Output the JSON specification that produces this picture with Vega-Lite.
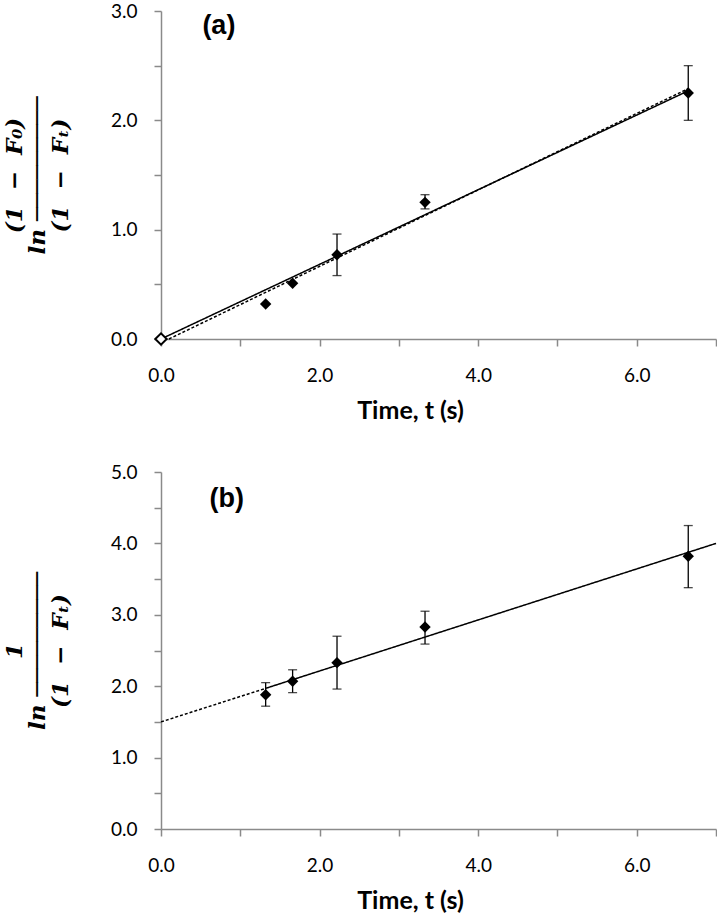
{
  "$schema": "https://vega.github.io/schema/vega-lite/v6.json",
  "padding": {"left": 3, "top": 2, "right": 0, "bottom": 0},
  "background": "white",
  "spacing": 40,
  "config": {
    "view": {"stroke": null},
    "font": "Lato",
    "axis": {
      "grid": false,
      "domainColor": "#8a8a8a",
      "domainWidth": 1.5,
      "tickColor": "#8a8a8a",
      "tickWidth": 1.5,
      "tickSize": 7,
      "labelFont": "Lato",
      "labelFontSize": 19,
      "labelColor": "black",
      "labelOverlap": false,
      "labelFlush": false,
      "labelBound": false,
      "titleColor": "black"
    },
    "axisX": {"labelPadding": 20, "titleFont": "Lato", "titleFontSize": 25, "titleFontWeight": "bold", "titlePadding": 13, "titleX": 249},
    "axisY": {"labelPadding": 17, "titleFont": "DejaVu Serif", "titleFontSize": 23, "titleFontWeight": "bold", "titleFontStyle": "italic", "titleLineHeight": 23, "titlePadding": 38}
  },
  "resolve": {"scale": {"x": "independent", "y": "independent"}},
  "datasets": {
    "ptsA": [
      {"t": 0, "v": 0, "open": true},
      {"t": 1.32, "v": 0.32, "open": false},
      {"t": 1.66, "v": 0.51, "open": false},
      {"t": 2.22, "v": 0.77, "lo": 0.58, "hi": 0.96, "open": false},
      {"t": 3.33, "v": 1.25, "lo": 1.19, "hi": 1.32, "open": false},
      {"t": 6.65, "v": 2.25, "lo": 2.0, "hi": 2.5, "open": false}
    ],
    "linesA": [
      {"t": 0, "v": 0, "kind": "solid"},
      {"t": 6.65, "v": 2.27, "kind": "solid"},
      {"t": 0.1, "v": 0.0, "kind": "dashed"},
      {"t": 6.65, "v": 2.29, "kind": "dashed"}
    ],
    "ptsB": [
      {"t": 1.32, "v": 1.88, "lo": 1.72, "hi": 2.05},
      {"t": 1.66, "v": 2.07, "lo": 1.91, "hi": 2.23},
      {"t": 2.22, "v": 2.33, "lo": 1.96, "hi": 2.7},
      {"t": 3.33, "v": 2.83, "lo": 2.59, "hi": 3.05},
      {"t": 6.65, "v": 3.82, "lo": 3.38, "hi": 4.25}
    ],
    "linesB": [
      {"t": 0, "v": 1.5, "kind": "dashed"},
      {"t": 1.32, "v": 1.97, "kind": "dashed"},
      {"t": 1.32, "v": 1.97, "kind": "solid"},
      {"t": 7.0, "v": 4.0, "kind": "solid"}
    ],
    "labA": [{"t": 0.73, "v": 2.86, "label": "(a)"}],
    "labB": [{"t": 0.83, "v": 4.62, "label": "(b)"}]
  },
  "vconcat": [
    {
      "width": 555,
      "height": 328,
      "encoding": {
        "x": {"field": "t", "type": "quantitative", "scale": {"domain": [0, 7], "nice": false},
          "axis": {"title": "Time, t (s)", "values": [0, 1, 2, 3, 4, 5, 6, 7],
            "labelExpr": "datum.value % 2 === 0 ? format(datum.value, '.1f') : ''"}},
        "y": {"field": "v", "type": "quantitative", "scale": {"domain": [0, 3], "nice": false},
          "axis": {"title": ["\u00a0\u00a0\u00a0\u00a0(1\u00a0\u00a0−\u00a0\u00a0F₀)", "ln ─────────", "\u00a0\u00a0\u00a0\u00a0(1\u00a0\u00a0−\u00a0\u00a0Fₜ)"],
            "values": [0, 0.5, 1, 1.5, 2, 2.5, 3],
            "labelExpr": "datum.value % 1 === 0 ? format(datum.value, '.1f') : ''"}}
      },
      "layer": [
        {
          "data": {"name": "linesA"},
          "mark": {"type": "line", "color": "black", "strokeWidth": 1.5},
          "encoding": {
            "detail": {"field": "kind", "type": "nominal"},
            "strokeDash": {"field": "kind", "type": "nominal", "scale": {"domain": ["solid", "dashed"], "range": [[1, 0], [3, 2]]}, "legend": null}
          }
        },
        {
          "data": {"name": "ptsA"},
          "transform": [{"filter": "isValid(datum.lo)"}],
          "mark": {"type": "errorbar", "color": "black", "thickness": 1.3, "ticks": {"size": 9, "color": "black"}},
          "encoding": {
            "y": {"field": "lo", "type": "quantitative"},
            "y2": {"field": "hi"}
          }
        },
        {
          "data": {"name": "ptsA"},
          "transform": [{"filter": "!datum.open"}],
          "mark": {"type": "point", "shape": "diamond", "filled": true, "color": "black", "size": 130, "opacity": 1}
        },
        {
          "data": {"name": "ptsA"},
          "transform": [{"filter": "datum.open"}],
          "mark": {"type": "point", "shape": "diamond", "filled": true, "fill": "white", "stroke": "black", "strokeWidth": 2, "size": 130, "opacity": 1}
        },
        {
          "data": {"name": "labA"},
          "mark": {"type": "text", "font": "Liberation Sans", "fontWeight": "bold", "fontSize": 27, "align": "center", "baseline": "middle", "color": "black"},
          "encoding": {"text": {"field": "label"}}
        }
      ]
    },
    {
      "width": 555,
      "height": 357,
      "encoding": {
        "x": {"field": "t", "type": "quantitative", "scale": {"domain": [0, 7], "nice": false},
          "axis": {"title": "Time, t (s)", "values": [0, 1, 2, 3, 4, 5, 6, 7],
            "labelExpr": "datum.value % 2 === 0 ? format(datum.value, '.1f') : ''"}},
        "y": {"field": "v", "type": "quantitative", "scale": {"domain": [0, 5], "nice": false},
          "axis": {"title": ["\u00a0\u00a0\u00a0\u00a01", "ln ─────────", "\u00a0\u00a0\u00a0\u00a0(1\u00a0\u00a0−\u00a0\u00a0Fₜ)"],
            "values": [0, 0.5, 1, 1.5, 2, 2.5, 3, 3.5, 4, 4.5, 5],
            "labelExpr": "datum.value % 1 === 0 ? format(datum.value, '.1f') : ''"}}
      },
      "layer": [
        {
          "data": {"name": "linesB"},
          "mark": {"type": "line", "color": "black", "strokeWidth": 1.5},
          "encoding": {
            "detail": {"field": "kind", "type": "nominal"},
            "strokeDash": {"field": "kind", "type": "nominal", "scale": {"domain": ["solid", "dashed"], "range": [[1, 0], [3, 2]]}, "legend": null}
          }
        },
        {
          "data": {"name": "ptsB"},
          "mark": {"type": "errorbar", "color": "black", "thickness": 1.3, "ticks": {"size": 9, "color": "black"}},
          "encoding": {
            "y": {"field": "lo", "type": "quantitative"},
            "y2": {"field": "hi"}
          }
        },
        {
          "data": {"name": "ptsB"},
          "mark": {"type": "point", "shape": "diamond", "filled": true, "color": "black", "size": 130, "opacity": 1}
        },
        {
          "data": {"name": "labB"},
          "mark": {"type": "text", "font": "Liberation Sans", "fontWeight": "bold", "fontSize": 27, "align": "center", "baseline": "middle", "color": "black"},
          "encoding": {"text": {"field": "label"}}
        }
      ]
    }
  ]
}
